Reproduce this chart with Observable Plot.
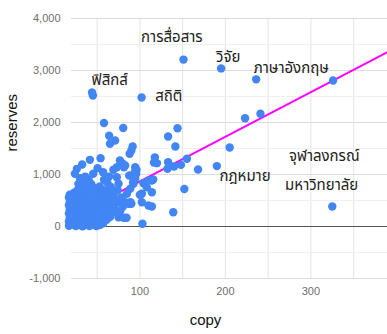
<!DOCTYPE html>
<html><head><meta charset="utf-8">
<script src="https://cdn.jsdelivr.net/npm/d3@7"></script>
<script src="https://cdn.jsdelivr.net/npm/@observablehq/plot@0.6"></script>
<style>html,body{margin:0;padding:0;background:#fff;} svg{display:block}</style>
</head><body><div id="chart"></div>
<script>
// [copy, reserves]
const outlierPoints = [
  [44,2577],[45,2520],[102,2480],[151,3210],[195,3040],[236,2830],[326,2808],
  [58,1990],[80.5,1895],[144,1890],[223,2083],[241,2167],
  [64,1744],[71,1654],[65,1590],[133,1730],[141.5,1538],
  [91.5,1538],[90,1462],[88,1400],
  [205,1520],[117.5,1330],[116.5,1230],[133,1237],[155,1302],[168,1095],[190,1162],[148,1185],[140,1155],
  [152,720],[139,275],[103,52],[325,385]
];
const midPoints = [
  [54,1314],[41.5,1282],[32.5,1192],[76.6,1270],[79.3,1218],[82.8,1173],[26.3,1109],[50.5,1122],[24,1013],[45.4,1013],[57,1045],[69,1090],[73,1140],
  [94.5,1140],[95.7,1013],[96,1090],[119.9,1218],[132.3,1109],
  [94.5,917],[92.5,821],[88.7,725],[84.8,629],
  [104.2,833],[102.3,629],[114,885],[114,660],[108,756],[110,885],[115.6,904],
  [73,948],[75,821],
  [82.8,467],[86.7,436],[102.3,467],[110,404],[114,385],[77,467],[69,629],
  [71,275],[75,179],[81,167],[84.4,167],
  [87.5,980],[81.3,1140],
  [100,610],[90,436],[89,467],[72,500],[67.6,308],
  [92,852],[94,1045],[78,560],[74,700],[80,380],[77,300],
  [30,930],[36,960],[40,905],[58,900],[62,840],[66,760],[64,960],[53,770],[28,820]
];
const clusterPoints = [
  [17,15],[17,95],[18,170],[17,250],[18,330],[17,410],[18,490],[17,560],[18,610],
  [21,40],[21,130],[22,210],[21,290],[22,370],[21,450],[22,530],[21,600],[23,650],
  [25,10],[25,80],[26,160],[25,240],[26,320],[25,400],[26,480],[25,560],[26,640],[27,700],
  [29,30],[29,120],[30,200],[29,280],[30,360],[29,440],[30,520],[29,600],[30,680],[31,760],
  [33,5],[33,90],[34,170],[33,250],[34,330],[33,410],[34,490],[33,570],[34,650],[33,730],[35,810],
  [37,40],[37,130],[38,210],[37,290],[38,370],[37,450],[38,530],[37,610],[38,690],[37,770],[39,860],
  [41,10],[41,90],[42,170],[41,250],[42,330],[41,410],[42,490],[41,570],[42,650],[41,730],[43,820],
  [45,40],[45,130],[46,210],[45,290],[46,370],[45,450],[46,530],[45,610],[46,690],[45,760],
  [49,10],[49,90],[50,170],[49,250],[50,330],[49,410],[50,490],[49,570],[50,650],[49,710],
  [53,30],[53,120],[54,200],[53,280],[54,360],[53,440],[54,520],[53,600],[54,680],
  [57,60],[57,150],[58,230],[57,310],[58,390],[57,470],[58,550],[57,630],[58,700],
  [61,130],[62,210],[61,290],[62,370],[61,450],[62,530],[61,610],[62,680],
  [65,180],[66,260],[65,340],[66,420],[65,500],[66,580],[65,650],
  [69,300],[70,380],[69,460],[70,540],[69,610]
];
const trendCopy = [20, 389.6];
const trendReserves = [181, 3352];
const xTicks = [100, 200, 300];
const xGrid = [50, 100, 150, 200, 250, 300, 350];
const yTicks = [-1000, 0, 1000, 2000, 3000, 4000];
const yMinorGrid = [-500, 500, 1500, 2500, 3500];
const labelText = ["ฟิสิกส์", "สถิติ", "การสื่อสาร", "วิจัย", "ภาษาอังกฤษ", "กฎหมาย", "จุฬาลงกรณ์", "มหาวิทยาลัย"];
const labelCopy = [64.7, 133.7, 137.4, 203.3, 277, 223, 315.6, 312.6];
const labelReserves = [2808, 2500, 3635, 3250, 3038, 962, 1346, 788];

const data = [...clusterPoints, ...midPoints, ...outlierPoints].map(([copy, reserves]) => ({copy, reserves}));
const trend = trendCopy.map((c, i) => ({copy: c, reserves: trendReserves[i]}));
const labels = labelText.map((t, i) => ({text: t, copy: labelCopy[i], reserves: labelReserves[i]}));
const fmt = d => d.toLocaleString("en-US");
const thai = "'Noto Sans Thai', 'Noto Sans Thai Looped', Tahoma, Loma, 'Garuda', sans-serif";

const chart = Plot.plot({
  width: 387, height: 334,
  marginLeft: 71, marginRight: 0, marginTop: 18, marginBottom: 56,
  style: {fontFamily: "Arial, 'Liberation Sans', sans-serif", fontSize: "11px", color: "#6f6f6f", background: "#fff", overflow: "visible"},
  x: {domain: [20, 389.6], ticks: xTicks, tickSize: 0, tickPadding: 9, label: null, tickFormat: fmt},
  y: {domain: [-1000, 4000], ticks: yTicks, tickSize: 0, tickPadding: 11, label: null, tickFormat: fmt},
  marks: [
    Plot.ruleX(xGrid, {stroke: "#e3e3e3"}),
    Plot.ruleY(yMinorGrid, {stroke: "#efefef"}),
    Plot.ruleY(yTicks, {stroke: "#dcdcdc"}),
    Plot.ruleY([0], {stroke: "#555"}),
    Plot.line(trend, {x: "copy", y: "reserves", stroke: "#ff00ff", strokeWidth: 2}),
    Plot.dot(data, {x: "copy", y: "reserves", r: 4.2, fill: "#4285f4"}),
    Plot.text(labels, {x: "copy", y: "reserves", text: "text", fontSize: 15, fill: "#222", fontFamily: thai}),
    Plot.text(["reserves"], {text: d => d, frameAnchor: "left", dx: -59, dy: 3, rotate: -90, fontSize: 15, fill: "#111"}),
    Plot.text(["copy"], {text: d => d, frameAnchor: "bottom", dx: -24, dy: 46, fontSize: 15, fill: "#111"})
  ]
});
document.getElementById("chart").appendChild(chart);
</script>
</body></html>
